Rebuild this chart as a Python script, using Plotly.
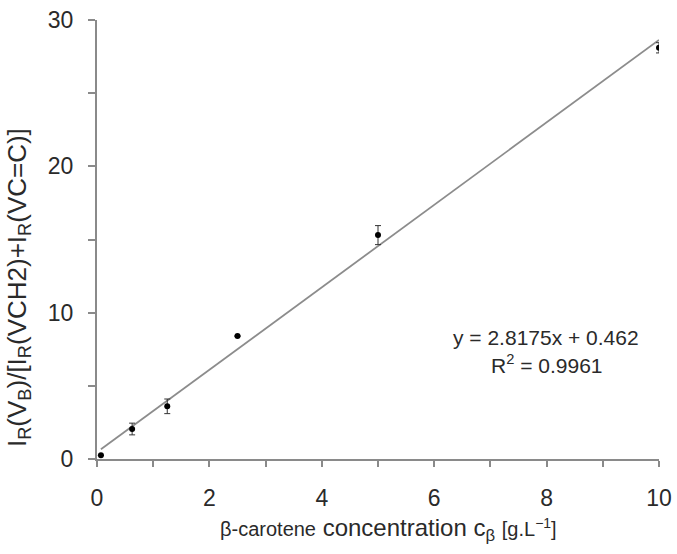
import plotly.graph_objects as go

# Data
conc = [0.07, 0.625, 1.25, 2.5, 5.0, 10.0]
ratio = [0.25, 2.05, 3.6, 8.4, 15.3, 28.1]
err = [0.0, 0.4, 0.5, 0.0, 0.65, 0.35]

slope = 2.8175
intercept = 0.462
r2 = 0.9961
fit_x = [0.07, 10.0]
fit_y = [slope * v + intercept for v in fit_x]

x_ticks = [0, 2, 4, 6, 8, 10]
y_ticks = [0, 10, 20, 30]

FONT = "Arial, Liberation Sans, sans-serif"
TXT = "#2a2a2a"
AX = "#8a8a8a"

fig = go.Figure()
fig.add_trace(go.Scatter(x=fit_x, y=fit_y, mode="lines",
                         line=dict(color="#8c8c8c", width=1.8),
                         showlegend=False, hoverinfo="skip"))
fig.add_trace(go.Scatter(x=conc, y=ratio, mode="markers",
                         marker=dict(color="#000000", size=6),
                         error_y=dict(type="data", array=err, visible=True,
                                      color="#333333", thickness=1, width=3),
                         showlegend=False))

fig.update_layout(
    width=677, height=554,
    margin=dict(l=97, r=18, t=20, b=95, autoexpand=False),
    paper_bgcolor="white", plot_bgcolor="white",
    font=dict(family=FONT, size=23, color=TXT),
    xaxis=dict(range=[0, 10], tickvals=x_ticks, showgrid=False, zeroline=False,
               automargin=False,
               showline=True, linecolor=AX, linewidth=2,
               ticks="outside", ticklen=6, tickwidth=1.5, tickcolor=AX,
               minor=dict(dtick=1, ticks="outside", ticklen=6, tickwidth=1.5, tickcolor=AX),
               ticklabelstandoff=11, tickfont=dict(size=23, color=TXT)),
    yaxis=dict(range=[0, 30], tickvals=y_ticks, showgrid=False, zeroline=False,
               automargin=False,
               showline=True, linecolor=AX, linewidth=2,
               ticks="outside", ticklen=7, tickwidth=1.5, tickcolor=AX,
               minor=dict(dtick=5, ticks="outside", ticklen=7, tickwidth=1.5, tickcolor=AX),
               ticklabelstandoff=10, tickfont=dict(size=23, color=TXT)),
)

# X axis title
fig.add_annotation(
    xref="paper", yref="paper", x=(388 - 97) / 562, y=-(529 - 459) / 439,
    xanchor="center", yanchor="middle", showarrow=False,
    text="<span style='font-size:20px'>β-carotene</span> concentration c<sub>β</sub> "
         "<span style='font-size:20px'>[g.L<sup>−1</sup>]</span>",
    font=dict(size=24, color=TXT, family=FONT))

# Y axis title
fig.add_annotation(
    xref="paper", yref="paper", x=-(97 - 18) / 562, y=(459 - 288) / 439,
    xanchor="center", yanchor="middle", showarrow=False, textangle=-90,
    text="I<sub>R</sub>(V<sub>B</sub>)/[I<sub>R</sub>(VCH2)+I<sub>R</sub>(VC=C)]",
    font=dict(size=26, color=TXT, family=FONT))

# Equation
fig.add_annotation(
    xref="paper", yref="paper", x=(546 - 97) / 562, y=(459 - 337) / 439,
    xanchor="center", yanchor="middle", showarrow=False,
    text=f"y = {slope}x + {intercept}",
    font=dict(size=21, color=TXT, family=FONT))
fig.add_annotation(
    xref="paper", yref="paper", x=(547 - 97) / 562, y=(459 - 364) / 439,
    xanchor="center", yanchor="middle", showarrow=False,
    text=f"R<sup>2</sup> = {r2}",
    font=dict(size=21, color=TXT, family=FONT))

fig.write_html("out.html")
